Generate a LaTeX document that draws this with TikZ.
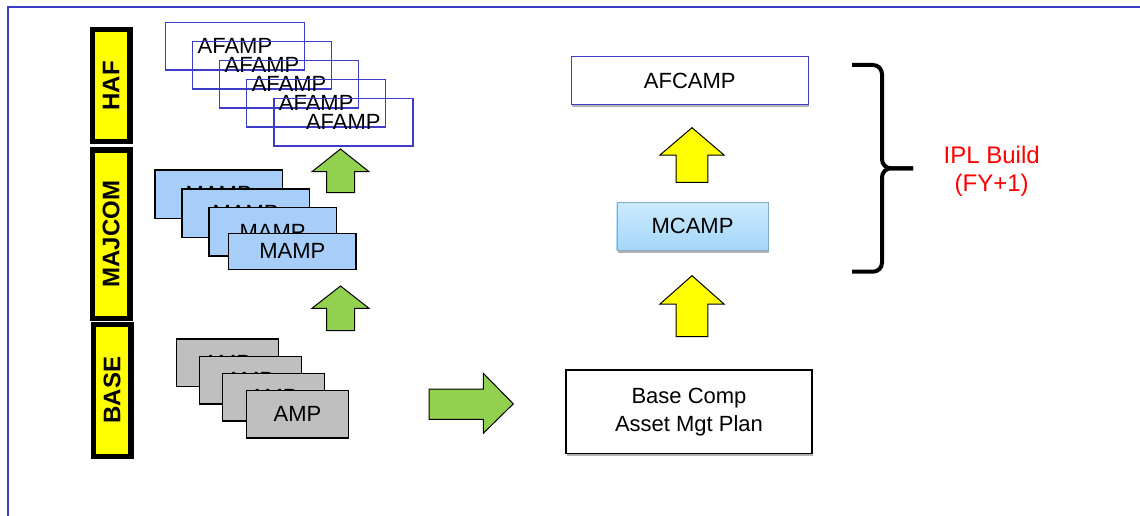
\documentclass[tikz,border=0pt]{standalone}
\usepackage{fontspec}
\setmainfont{Liberation Sans}
\usepackage{tikz}
\usetikzlibrary{positioning}
\usetikzlibrary{shadows}

\definecolor{planBlue}{RGB}{60,60,200}
\definecolor{barYellow}{RGB}{255,255,0}
\definecolor{mampBlue}{RGB}{166,206,248}
\definecolor{ampGray}{RGB}{191,191,191}
\definecolor{arrowGreen}{RGB}{146,208,80}
\definecolor{mcampTop}{RGB}{204,234,252}
\definecolor{mcampBottom}{RGB}{164,214,249}
\definecolor{iplRed}{RGB}{255,0,0}

% block arrow pointing up: colour, centre x, tip y, neck y, foot y, head half width, shaft half width
\newcommand\blockup[7]{%
\filldraw[fill=#1, draw=black, line width=1pt] (#2,#3) -- (#2+#6,#4) -- (#2+#7,#4) -- (#2+#7,#5) -- (#2-#7,#5) -- (#2-#7,#4) -- (#2-#6,#4) -- cycle;
}

\begin{document}
\begin{tikzpicture}[x=1pt,y=-1pt,
	every node/.style={inner sep=0pt, font=\fontsize{22}{28}\selectfont},
	tier/.style={draw=black, fill=barYellow, line width=5.5pt, rotate=90, minimum height=37.5pt, font=\fontsize{24}{28}\selectfont\bfseries},
	afampbox/.style={draw=planBlue, line width=1.5pt, minimum width=139pt, minimum height=47.5pt},
	mampbox/.style={draw=black, fill=mampBlue, line width=1.3pt, minimum width=127.3pt, minimum height=48.3pt},
	ampbox/.style={draw=black, fill=ampGray, line width=1.3pt, minimum width=102pt, minimum height=47.7pt},
	softshadow/.style={drop shadow={shadow xshift=1pt, shadow yshift=-3pt, fill=black, opacity=0.3}}]
	%% some definitions
	\def\braceW{4pt} % brace stroke
	\def\armX{882} % x of the brace spine
	
	\useasboundingbox (0,0) rectangle (1140,516);
	
	% outer frame
	\draw[planBlue, line width=2pt] (7.5,516) -- (7.5,7.5) -- (1140,7.5);
	
	% tiers on the left
	\node[tier, minimum width=112pt] (haf) at (111,85.75) {HAF};
	\node[tier, minimum width=168.5pt] (majcom) at (111,234) {MAJCOM};
	\node[tier, minimum width=132pt] (base) at (112,390.25) {BASE};
	
	% HAF plans
	\node[afampbox] (afamp1) at (234.9,46.3) {AFAMP};
	\node[afampbox] (afamp2) at (262,65.3) {AFAMP};
	\node[afampbox] (afamp3) at (289.1,84.3) {AFAMP};
	\node[afampbox] (afamp4) at (316.2,103.3) {AFAMP};
	\node[afampbox] (afamp5) at (343.3,122.3) {AFAMP};
	
	% MAJCOM plans
	\node[mampbox] (mamp1) at (218.7,194.2) {MAMP};
	\node[mampbox] (mamp2) at (245.5,213.2) {MAMP};
	\node[mampbox] (mamp3) at (272.5,231.8) {MAMP};
	\node[mampbox, minimum height=36pt] (mamp4) at (292.3,251.3) {MAMP};
	
	% base plans
	\node[ampbox] (amp1) at (227.2,362.8) {AMP};
	\node[ampbox] (amp2) at (250.2,380.2) {AMP};
	\node[ampbox] (amp3) at (273.8,397.2) {AMP};
	\node[ampbox] (amp4) at (297.5,414.2) {AMP};
	
	\blockup{arrowGreen}{340.5}{149}{171.7}{192.7}{28.5}{14}
	\blockup{arrowGreen}{340.5}{286}{308.3}{330.7}{28.5}{14}
	
	% arrow over to the base comp plan
	\filldraw[fill=arrowGreen, draw=black, line width=1pt] (429,389) -- (483.3,389) -- (483.3,373.3) -- (513.3,403.8) -- (483.3,433.3) -- (483.3,419.3) -- (429,419.3) -- cycle;
	
	% right column
	\node[draw=planBlue, fill=white, line width=1.5pt, minimum width=237pt, minimum height=47.6pt, softshadow] (afcamp) at (689.8,80.5) {AFCAMP};
	\node[top color=mcampTop, bottom color=mcampBottom, draw=mcampBottom!80!black, line width=0.4pt, minimum width=151.6pt, minimum height=47.7pt, softshadow] (mcamp) at (692.5,226.2) {MCAMP};
	\node[draw=black, fill=white, line width=1.3pt, minimum width=246pt, minimum height=83.3pt, align=center, softshadow] (basecomp) at (689,411.7) {Base Comp\\Asset Mgt Plan};
	
	\blockup{barYellow}{692}{127.7}{155}{182.3}{32}{15.8}
	\blockup{barYellow}{692}{275.7}{304}{336.7}{32}{15.8}
	
	% brace round the IPL build
	\draw[line width=\braceW, rounded corners=9pt] (852,65) -- (\armX,65) -- (\armX,168.3) -- (913,168.3);
	\draw[line width=\braceW, rounded corners=9pt] (852,271.7) -- (\armX,271.7) -- (\armX,168.3) -- (913,168.3);
	
	\node[text=iplRed, align=center, font=\fontsize{24}{28.3}\selectfont] (ipl) at (991.7,171.5) {IPL Build\\(FY+1)};
	
\end{tikzpicture}
\end{document}
